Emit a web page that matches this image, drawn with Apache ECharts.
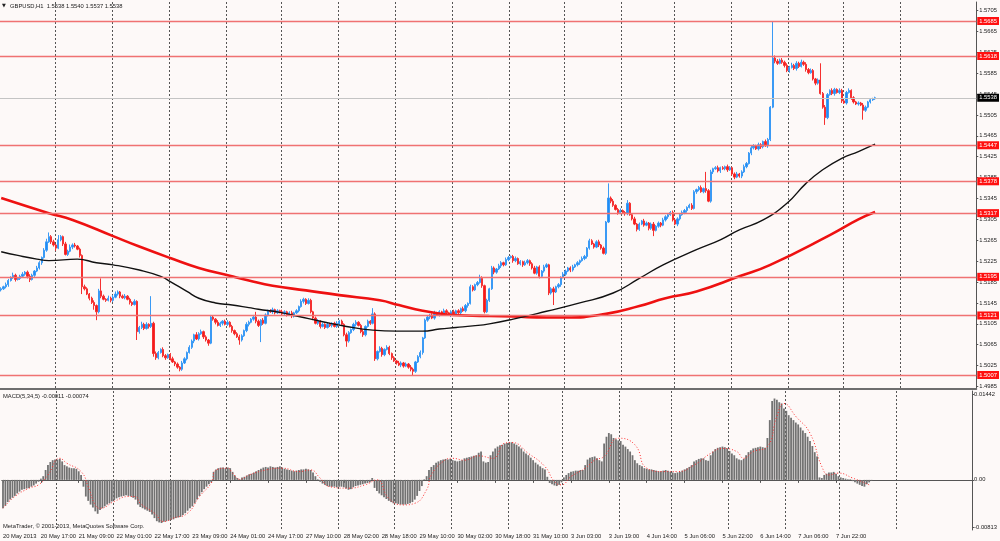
<!DOCTYPE html>
<html><head><meta charset="utf-8">
<script src="https://cdn.jsdelivr.net/npm/echarts@6/dist/echarts.min.js"></script>
<style>html,body{margin:0;padding:0;background:#fdf9f8}#c{width:1000px;height:541px}</style>
</head><body><div id="c"></div>
<script>
// ---- data (prices in pips above 1.5000) ----
const BASE = 1.5, PIP = 0.0001;
const firstOpen = 170;
const closes = [
172,176,180,188,194,198,190,192,196,200,
204,196,190,198,206,212,222,232,246,262,
272,262,256,250,266,272,258,238,244,252,
256,254,248,236,176,172,162,154,146,140,
128,168,158,152,150,154,150,156,162,166,
158,155,158,152,146,142,148,90,98,104,
96,104,100,106,48,40,50,56,44,40,
46,38,32,28,22,18,30,38,50,60,
72,84,76,86,90,80,74,68,118,114,
108,102,106,110,104,108,100,92,86,80,
74,82,92,104,108,114,118,110,102,112,
106,122,130,128,132,126,130,128,124,128,
122,126,120,126,130,138,148,152,144,150,
128,116,106,110,100,104,98,104,102,106,
100,106,110,104,84,72,88,94,104,108,
102,90,84,100,110,106,124,38,52,58,
46,56,60,48,40,34,30,26,30,24,
28,22,18,14,32,42,50,78,112,118,
122,116,126,122,128,124,130,126,122,128,
124,130,126,134,130,140,144,176,170,180,
184,192,178,128,150,172,212,204,210,216,
222,218,228,232,234,226,230,220,224,218,
222,226,220,212,202,214,196,206,214,218,
164,172,166,176,180,194,200,206,212,208,
214,218,222,226,230,234,250,264,258,252,
262,256,250,240,300,346,340,332,324,318,
322,318,316,336,314,306,296,286,296,302,
294,298,288,296,284,292,298,294,304,310,
314,318,304,296,306,314,318,322,328,332,
326,358,362,366,358,364,360,340,396,402,
404,398,404,402,406,400,404,392,386,392,
388,396,406,412,432,442,446,440,448,444,
454,446,458,520,614,608,604,610,606,600,
590,596,600,594,604,598,606,602,592,586,
590,574,566,572,546,520,500,544,552,546,
554,548,552,532,528,548,552,538,530,526,
528,524,514,520,530,534,536,538];
const upperWicks = [
3,2,4,3,2,5,3,2,3,4, 2,3,4,3,2,4,3,2,4,6, 8,3,4,2,9,3,2,4,3,5, 3,4,2,3,2,4,3,2,3,4,
2,4,24,3,2,5,3,4,5,3, 2,3,4,2,3,2,4,2,3,5, 3,4,2,52,3,4,3,2,4,3, 2,3,4,2,3,2,4,3,2,4,
3,2,5,3,4,2,3,2,4,3, 2,4,3,2,3,4,2,3,2,3, 4,3,2,4,3,2,4,10,3,2, 4,3,2,3,4,2,3,2,4,3,
2,3,4,2,3,2,4,3,2,4, 3,2,3,4,2,3,2,4,3,2, 3,4,2,3,2,4,3,2,3,4, 2,3,4,2,3,2,11,3,2,4,
3,2,4,3,2,3,2,4,3,2, 3,2,4,3,2,3,4,2,3,4, 2,3,4,2,3,2,4,3,2,3, 4,2,3,2,4,3,2,4,3,2,
3,7,4,2,3,2,4,3,2,4, 3,2,4,3,2,3,4,2,3,2, 4,3,2,3,4,2,3,2,4,3, 2,3,4,2,3,2,4,3,2,3,
4,2,3,2,4,3,2,4,3,2, 3,4,2,3,2,28,3,4,2,3, 4,2,3,6,2,3,4,2,3,2, 4,3,2,3,4,2,3,2,4,3,
2,3,4,2,3,2,4,3,2,3, 4,3,2,3,4,2,32,3,4,2, 3,4,2,3,2,4,3,2,3,4, 2,3,4,3,2,4,3,2,4,3,
2,4,3,2,71,5,4,3,4,3, 4,3,5,3,4,3,5,3,4,3, 4,3,2,3,32,3,4,3,2,4, 3,2,4,3,2,3,4,2,3,2,
3,2,4,3,2,3,2,2];
const lowerWicks = [
3,2,3,4,2,3,4,2,3,2, 3,4,5,2,3,2,3,4,2,3, 2,4,3,5,2,3,4,2,3,2, 4,3,2,4,14,3,2,4,3,8,
16,3,4,2,3,2,4,3,2,3, 4,2,3,2,4,3,2,16,4,3, 3,2,4,3,6,4,3,2,3,4, 2,3,2,4,3,4,3,2,3,2,
3,4,2,3,2,4,3,5,2,3, 4,2,3,4,2,3,2,4,3,2, 9,3,2,3,4,2,3,4,3,32, 3,2,3,2,4,3,2,3,4,3,
3,2,4,3,2,3,2,4,3,2, 3,4,2,3,4,2,3,2,3,4, 2,3,4,2,3,11,3,2,3,4, 2,3,4,3,2,3,2,4,3,2,
4,3,2,3,4,2,3,2,4,3, 2,3,4,7,3,2,3,4,2,3, 4,2,3,2,3,4,2,3,2,4, 3,2,4,3,2,3,4,2,3,2,
3,2,4,3,2,3,2,4,3,2, 4,3,2,3,2,4,3,2,3,4, 2,3,4,3,2,3,4,2,3,2, 4,3,25,2,3,4,2,3,2,4,
3,2,3,4,2,3,4,3,2,3, 2,4,3,2,3,2,4,3,2,4, 3,2,4,3,2,3,2,4,3,2, 3,2,4,3,11,2,3,4,2,3,
4,2,3,2,4,3,2,3,4,2, 3,2,4,3,2,3,4,2,3,4, 2,3,4,2,3,4,2,3,4,2, 3,4,2,3,2,4,3,2,3,4,
3,2,4,3,2,4,3,2,3,4, 3,4,2,3,4,3,2,3,4,3, 2,3,4,3,2,3,14,3,2,3, 4,2,3,4,2,3,2,4,3,2,
3,2,18,3,2,3,2,2];
// moving averages: [bar index, pips]
const blackMA = [[0,243],[7,236],[15,229],[20,226],[32,229],[40,222],[47,218],[58,208],[67,196],[71,186],[78,167],[83,154],[90,145],[97,141],[104,136],[108,133],[117,127],[125,119],[135,109],[145,100],[156,93],[166,91],[177,91],[184,95],[191,98],[198,101],[205,105],[215,114],[229,129],[243,145],[257,164],[268,192],[278,218],[292,247],[302,266],[310,285],[320,304],[330,336],[338,374],[345,400],[353,422],[360,435],[367,449]];
const redMA = [[0,346],[20,317],[30,304],[47,273],[58,253],[71,231],[83,212],[96,197],[104,188],[114,178],[128,169],[142,160],[159,150],[167,141],[177,130],[187,123],[195,121],[205,120],[215,119],[229,117],[237,117],[254,124],[268,139],[279,154],[292,167],[310,196],[323,218],[348,275],[360,305],[367,319]];
// MACD in units of 0.0001
const macdHist = [
-46,-42,-36,-32,-29,-26,-22,-19,-16,-15, -14,-13,-11,-9,-6,-3,2,6,16,24, 29,32,33,33,34,30,24,22,20,19, 19,18,14,8,-11,-27,-34,-40,-45,-51,
-55,-49,-46,-43,-40,-38,-35,-33,-30,-28, -27,-26,-25,-26,-27,-29,-32,-40,-44,-46, -48,-50,-52,-56,-62,-67,-69,-70,-68,-67, -66,-65,-64,-62,-61,-60,-57,-54,-50,-46,
-43,-38,-32,-26,-20,-15,-11,-7,-4,13, 17,19,20,20,19,20,19,13,7,3, 1,4,5,7,9,10,12,14,16,18, 20,21,20,22,21,20,21,22,20,18,
17,16,15,14,15,16,17,17,18,17, 16,12,6,1,-3,-6,-8,-10,-11,-11, -11,-12,-11,-11,-12,-14,-16,-15,-12,-10, -9,-8,-7,-6,-5,-4,3,-13,-18,-22,
-25,-28,-31,-34,-36,-38,-38,-39,-40,-40, -40,-39,-38,-36,-32,-26,-18,-10,1,6, 16,21,24,28,30,32,33,34,33,34, 32,31,30,31,32,35,36,37,38,39,
40,44,46,30,28,29,40,46,51,54, 56,57,59,60,61,61,59,57,54,51, 46,43,40,36,32,28,25,22,19,17, 5,-5,-7,-9,-10,-8,-4,4,8,11,
13,14,15,15,16,16,24,33,36,37, 38,35,32,30,59,70,76,74,68,66, 64,63,57,54,50,46,40,32,27,24, 22,19,18,17,17,16,15,14,14,15,
16,15,13,12,11,12,13,15,17,19, 21,24,30,32,34,35,35,32,31,40, 46,50,52,53,54,53,51,47,43,40, 35,33,32,34,40,45,48,51,52,53,
54,53,52,68,97,128,132,130,126,124, 116,112,105,101,97,93,90,85,80,76, 70,63,55,45,38,4,3,8,10,12, 12,13,10,6,4,3,2,1,1,-2,
-4,-6,-8,-10,-11,-7,-4,-1];
const macdSignal = [[0,-46],[5,-27],[11,-13.5],[15,-8],[19,8],[24,35],[27,27],[33,13.5],[36,-11],[39,-41],[41,-46],[47,-35],[53,-27],[56,-27],[58,-38],[64,-54],[68,-67.6],[72,-62],[78,-54],[83,-27],[88,-5],[90,16],[95,19],[97,11],[100,1],[104,8],[111,16],[118,19],[125,13.5],[130,16],[134,3],[138,-11],[146,-13.5],[153,-8],[158,0],[163,-30],[169,-40.6],[174,-38],[179,-16],[181,8],[186,30],[190,35],[195,32],[201,39],[207,35],[212,59.5],[215,60.6],[222,43],[229,21.6],[233,-2.7],[236,-8],[240,5.4],[246,19],[250,32],[254,38],[260,67.6],[267,57],[272,19],[279,13.5],[285,13.5],[292,24],[299,43],[304,51],[310,46],[313,35],[317,46],[323,54],[327,103],[330,124],[335,103],[341,75.7],[346,21.6],[349,8],[353,11],[359,3],[366,-8]];
// horizontal levels and current price
const levels = [1.5685, 1.5618, 1.5447, 1.5378, 1.5317, 1.5195, 1.5121, 1.5007];
const lastPrice = 1.5538;
// axes
const priceTicks = [1.4985,1.5025,1.5065,1.5105,1.5145,1.5185,1.5225,1.5265,1.5305,1.5345,1.5385,1.5425,1.5465,1.5505,1.5545,1.5585,1.5625,1.5665,1.5705];
const timeLabels = ['20 May 2013','20 May 17:00','21 May 09:00','22 May 01:00','22 May 17:00','23 May 09:00','24 May 01:00','24 May 17:00','27 May 10:00','28 May 02:00','28 May 18:00','29 May 10:00','30 May 02:00','30 May 18:00','31 May 10:00','3 Jun 03:00','3 Jun 19:00','4 Jun 14:00','5 Jun 06:00','5 Jun 22:00','6 Jun 14:00','7 Jun 06:00','7 Jun 22:00'];
const LABEL_STEP = 16;
const dayBreaks = [23,47,71,95,118,142,166,190,214,237,261,283,307,331,354,378];
const N_SLOTS = 410;
const macdTickPos = [139.3, 0, -76.4];
const macdTickLabels = ['0.01442', '0.00', '-0.00813'];

// ---- build ----
const toPrice = v => +(BASE + v * PIP).toFixed(5);
const cats = [];
for (let i = 0; i < N_SLOTS; i++) cats.push('b' + i);
const candles = closes.map((c, i) => {
  const o = i === 0 ? firstOpen : closes[i - 1];
  const hi = Math.max(o, c) + upperWicks[i];
  const lo = Math.min(o, c) - lowerWicks[i];
  return [toPrice(o), toPrice(c), toPrice(lo), toPrice(hi)];
});
const breakSet = new Set(dayBreaks);
const FONT = 'Liberation Sans';
const TXT = '#222';
const showLabel = i => i % LABEL_STEP === 0 && i / LABEL_STEP < timeLabels.length;

const chart = echarts.init(document.getElementById('c'));
chart.setOption({
  animation: false,
  backgroundColor: '#fdf9f8',
  grid: [
    {left: 0, right: 23, top: 2, height: 387},
    {left: 0, right: 23, top: 391, height: 139}
  ],
  xAxis: [
    {type: 'category', gridIndex: 0, data: cats, boundaryGap: true,
     axisLine: {show: true, lineStyle: {color: '#6e6e6e', width: 2}},
     axisTick: {show: false}, axisLabel: {show: false},
     splitLine: {show: true, interval: i => breakSet.has(i), lineStyle: {color: '#555', type: [2, 2], width: 1}}},
    {type: 'category', gridIndex: 1, data: cats, boundaryGap: true,
     axisLine: {show: true, lineStyle: {color: '#555', width: 1}},
     axisTick: {show: true, interval: showLabel, alignWithLabel: true, length: 3, lineStyle: {color: '#555'}},
     axisLabel: {show: true, interval: showLabel, formatter: (v, i) => timeLabels[i / LABEL_STEP] || '',
       align: 'left', margin: 3, fontSize: 5.8, fontFamily: FONT, color: TXT},
     splitLine: {show: true, interval: i => breakSet.has(i), lineStyle: {color: '#555', type: [2, 2], width: 1}}}
  ],
  yAxis: [
    {type: 'value', gridIndex: 0, position: 'right', min: 1.498017, max: 1.572139, scale: true,
     axisLine: {show: true, lineStyle: {color: '#555'}},
     axisTick: {show: true, customValues: priceTicks, length: 2, lineStyle: {color: '#555'}},
     axisLabel: {show: true, customValues: priceTicks, formatter: v => v.toFixed(4), margin: 3,
       fontSize: 5.8, fontFamily: FONT, color: TXT},
     splitLine: {show: false}},
    {type: 'value', gridIndex: 1, position: 'right', min: -81.3, max: 144.2,
     axisLine: {show: true, lineStyle: {color: '#555'}},
     axisTick: {show: true, customValues: macdTickPos, length: 2, lineStyle: {color: '#555'}},
     axisLabel: {show: true, customValues: macdTickPos,
       formatter: v => macdTickLabels[macdTickPos.indexOf(v)] || '', margin: 2,
       fontSize: 5.8, fontFamily: FONT, color: TXT},
     splitLine: {show: false}}
  ],
  series: [
    {type: 'candlestick', xAxisIndex: 0, yAxisIndex: 0, data: candles, barWidth: 1.8,
     itemStyle: {color: '#1e8cf5', color0: '#f51a1a', borderColor: '#3a9af5', borderColor0: '#f53030', borderWidth: 1},
     markLine: {silent: true, symbol: 'none', precision: 4,
       lineStyle: {color: '#f07272', width: 1.3, type: 'solid'},
       label: {show: true, position: 'end', distance: 1, formatter: p => p.value.toFixed(4),
         backgroundColor: '#ff1010', color: '#fff', fontSize: 5.8, fontFamily: FONT, padding: [1, 2, 1, 2]},
       data: levels.map(v => ({yAxis: v})).concat([{yAxis: lastPrice,
         lineStyle: {color: '#c4c4c4', width: 1}, label: {backgroundColor: '#000', color: '#fff'}}])}},
    {type: 'line', xAxisIndex: 0, yAxisIndex: 0, data: redMA.map(p => [p[0], toPrice(p[1])]),
     smooth: true, symbol: 'none', lineStyle: {color: '#ee1111', width: 2.6}, z: 4},
    {type: 'line', xAxisIndex: 0, yAxisIndex: 0, data: blackMA.map(p => [p[0], toPrice(p[1])]),
     smooth: true, symbol: 'none', lineStyle: {color: '#111', width: 1.4}, z: 4},
    {type: 'bar', xAxisIndex: 1, yAxisIndex: 1, data: macdHist, barWidth: 1.8,
     itemStyle: {color: '#727272'}},
    {type: 'line', xAxisIndex: 1, yAxisIndex: 1, data: macdSignal, smooth: true, symbol: 'none',
     lineStyle: {color: '#ff3030', width: 1, type: [1, 2]}, z: 4}
  ],
  graphic: [
    {type: 'text', left: 2, top: 3, style: {text: '▼', font: '5px "DejaVu Sans"', fill: '#222'}},
    {type: 'text', left: 10, top: 3, style: {text: 'GBPUSD,H1  1.5538 1.5540 1.5537 1.5538', font: '5.8px "' + FONT + '"', fill: '#222'}},
    {type: 'text', left: 3, top: 393, style: {text: 'MACD(5,34,5) -0.00011 -0.00074', font: '5.8px "' + FONT + '"', fill: '#222'}},
    {type: 'text', left: 3, top: 523, style: {text: 'MetaTrader, © 2001-2013, MetaQuotes Software Corp.', font: '5.8px "' + FONT + '"', fill: '#222'}}
  ]
});
</script></body></html>
